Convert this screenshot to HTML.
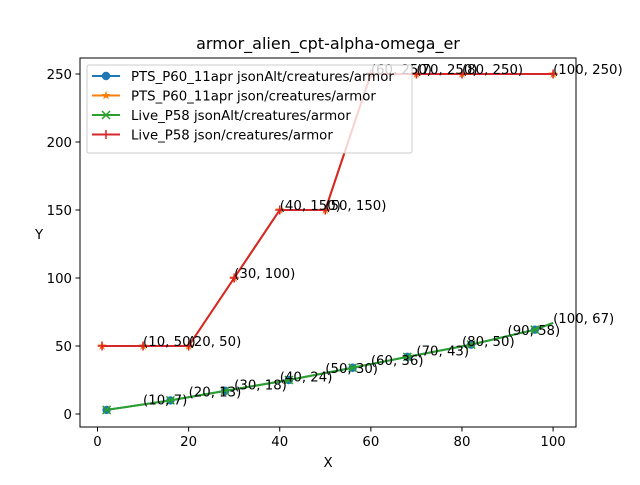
<!DOCTYPE html>
<html><head><meta charset="utf-8"><style>body{margin:0;background:#fff}svg text{font-family:"DejaVu Sans","Liberation Sans",sans-serif}</style></head>
<body>
<svg id="chart" width="640" height="480" xmlns="http://www.w3.org/2000/svg">
<rect width="640" height="480" fill="#fff"/>
<text x="328" y="49" font-size="16" text-anchor="middle">armor_alien_cpt-alpha-omega_er</text>
<g id="plot"></g>
<rect x="80" y="58" width="496" height="369" fill="none" stroke="#000" stroke-width="1"/>
<text x="328" y="467" font-size="13.3" text-anchor="middle">X</text>
<text x="39" y="239" font-size="13.3" text-anchor="middle">Y</text>
</svg>
<script>
const xTicks=[0,20,40,60,80,100];
const yTicks=[0,50,100,150,200,250];
const greenX=[2,16,28,42,56,68,82,96,100];
const greenY=[3,10,17,25,34,42,51,62,67];
const redX=[1,10,20,30,40,50,60,70,80,100];
const redY=[50,50,50,100,150,150,250,250,250,250];
const lowLabels=["(10, 7)","(20, 13)","(30, 18)","(40, 24)","(50, 30)","(60, 36)","(70, 43)","(80, 50)","(90, 58)","(100, 67)"];
const lowLabX=[10,20,30,40,50,60,70,80,90,100];
const lowLabY=[7,13,18,24,30,36,43,50,58,67];
const highLabels=["(10, 50)","(20, 50)","(30, 100)","(40, 150)","(50, 150)","(60, 250)","(70, 250)","(80, 250)","(100, 250)"];
const highLabX=[10,20,30,40,50,60,70,80,100];
const highLabY=[50,50,100,150,150,250,250,250,250];
const legendLabels=["PTS_P60_11apr jsonAlt/creatures/armor","PTS_P60_11apr json/creatures/armor","Live_P58 jsonAlt/creatures/armor","Live_P58 json/creatures/armor"];
const NS="http://www.w3.org/2000/svg";
const sx=v=>97.5+v*4.556;
const sy=v=>414-v*1.36;
const g=document.getElementById('plot');
function mk(t,a,p){const e=document.createElementNS(NS,t);for(const k in a)e.setAttribute(k,a[k]);(p||g).appendChild(e);return e;}
xTicks.forEach(v=>{
 const l=mk('line',{x1:sx(v),x2:sx(v),y1:427,y2:431.5,stroke:'#000'});
 
 
 const t=mk('text',{x:sx(v),y:446,'font-size':13.3,'text-anchor':'middle'});t.textContent=v;
 
 
});
yTicks.forEach(v=>{
 const l=mk('line',{x1:75.5,x2:80,y1:sy(v),y2:sy(v),stroke:'#000'});
 
 
 const t=mk('text',{x:72,y:sy(v)+5,'font-size':13.3,'text-anchor':'end'});t.textContent=v;
 
 
});
function series(xs,ys,color,name){
 const p=mk('polyline',{points:xs.map((x,i)=>sx(x)+','+sy(ys[i])).join(' '),fill:'none',stroke:color,'stroke-width':2});
 
 
}
function star(X,Y,R,color,p){
 let pts=[];for(let k=0;k<10;k++){const r=k%2?R*0.4:R;const a=-Math.PI/2+k*Math.PI/5;pts.push((X+r*Math.cos(a)).toFixed(2)+','+(Y+r*Math.sin(a)).toFixed(2));}
 return mk('polygon',{points:pts.join(' '),fill:color},p);
}
function marker(kind,X,Y,color,p){
 if(kind==='o')return mk('circle',{cx:X,cy:Y,r:4.2,fill:color},p);
 if(kind==='x')return mk('path',{d:`M${X-4} ${Y-4}L${X+4} ${Y+4}M${X-4} ${Y+4}L${X+4} ${Y-4}`,stroke:color,'stroke-width':1.5},p);
 if(kind==='+')return mk('path',{d:`M${X-4.5} ${Y}L${X+4.5} ${Y}M${X} ${Y-4.5}L${X} ${Y+4.5}`,stroke:color,'stroke-width':1.5},p);
 return star(X,Y,4.8,color,p);
}
function markers(xs,ys,kind,color,name,skipLast){
 const n=skipLast?xs.length-1:xs.length;
 for(let i=0;i<n;i++){
  const m=marker(kind,sx(xs[i]),sy(ys[i]),color);
  
  
 }
}
series(greenX,greenY,'#1f77b4','pts-jsonalt');markers(greenX,greenY,'o','#1f77b4','pts-jsonalt',true);
series(redX,redY,'#ff7f0e','pts-json');markers(redX,redY,'*','#ff7f0e','pts-json',false);
series(greenX,greenY,'#2ca02c','live-jsonalt');markers(greenX,greenY,'x','#2ca02c','live-jsonalt',true);
series(redX,redY,'#d62728','live-json');markers(redX,redY,'+','#d62728','live-json',false);
function labels(txt,xs,ys){txt.forEach((s,i)=>{const t=mk('text',{x:sx(xs[i]),y:sy(ys[i]),'font-size':13.3});t.textContent=s;
 
 });}
labels(lowLabels,lowLabX,lowLabY);labels(highLabels,highLabX,highLabY);
const lg=mk('g',{});


mk('rect',{x:87,y:65,width:325,height:88,rx:2,fill:'#fff','fill-opacity':0.8,stroke:'#ccc'},lg);
const cols=['#1f77b4','#ff7f0e','#2ca02c','#d62728'],kinds=['o','*','x','+'];
legendLabels.forEach((s,i)=>{
 const y=76+i*19.5;
 const l=mk('line',{x1:92,x2:120,y1:y,y2:y,stroke:cols[i],'stroke-width':2},lg);
 
 
 const m=marker(kinds[i],106,y,cols[i],lg);
 
 
 const t=mk('text',{x:131,y:y+5,'font-size':13.3},lg);t.textContent=s;
 
 
});
</script>
</body></html>
